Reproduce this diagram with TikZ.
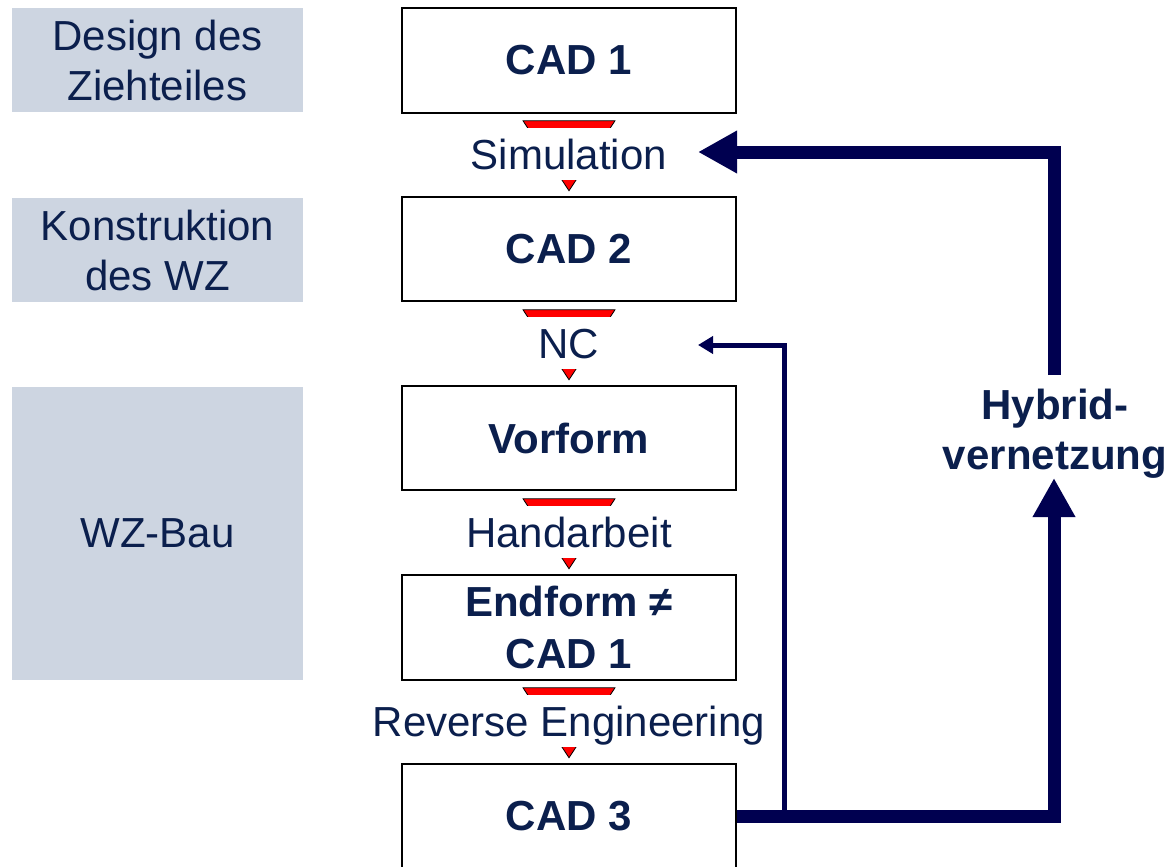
\documentclass[tikz,border=0pt]{standalone}
\usepackage{fontspec}
\setmainfont{Liberation Sans}
\usetikzlibrary{arrows.meta}
\definecolor{txt}{RGB}{11,31,77}
\definecolor{arr}{RGB}{0,0,80}
\definecolor{side}{RGB}{205,213,225}
\begin{document}
\begin{tikzpicture}[x=1pt,y=-1pt,
  every node/.style={font=\fontsize{42}{50}\selectfont, text=txt},
  sidebox/.style={fill=side, inner sep=0pt, align=center, minimum width=291pt},
  stepbox/.style={draw=black, line width=1.5pt, fill=white, minimum width=334pt, minimum height=105pt, inner sep=0pt, align=center, font=\fontsize{42}{52}\selectfont\bfseries},
  steplabel/.style={fill=white, inner xsep=3pt, inner ysep=0pt, minimum width=100pt, minimum height=52pt, text height=30pt, text depth=0pt},
  flowtri/.style={fill=red, draw=black, line width=0.8pt, line join=miter},
  bigarrow/.style={draw=arr, line width=13pt, -{Triangle[length=39pt,width=40pt]}},
  thinarrow/.style={draw=arr, line width=5pt, -{Triangle[length=15pt,width=17pt]}}]
\useasboundingbox (0,0) rectangle (1170,867);
\fill[white] (0,0) rectangle (1170,867);

% side boxes
\node[sidebox, minimum height=104pt] (s1) at (157.5,60) {Design des\\Ziehteiles};
\node[sidebox, minimum height=104pt] (s2) at (157.5,250) {Konstruktion\\des WZ};
\node[sidebox, minimum height=293pt] (s3) at (157.5,533.5) {WZ-Bau};

% main boxes
\node[stepbox] (cad1) at (569,60.5) {CAD 1};
\node[stepbox, minimum height=104pt] (cad2) at (569,249) {CAD 2};
\node[stepbox, minimum height=104pt] (vor) at (569,438) {Vorform};
\node[stepbox] (endf) at (569,627.5) {Endform ≠\\CAD 1};
\node[stepbox, minimum height=104pt] (cad3) at (569,816) {CAD 3};

% red flow triangles
\draw[flowtri] (cad1.south) ++(-46,7) -- ++(92,0) -- ++(-46,70) -- cycle;
\draw[flowtri] (cad2.south) ++(-46,8) -- ++(92,0) -- ++(-46,70) -- cycle;
\draw[flowtri] (vor.south) ++(-46,8) -- ++(92,0) -- ++(-46,70) -- cycle;
\draw[flowtri] (endf.south) ++(-46,7) -- ++(92,0) -- ++(-46,70) -- cycle;

% labels
\node[steplabel] (sim) at (569,154) {Simulation};
\node[steplabel] (nc) at (569,343) {NC};
\node[steplabel] (hand) at (569,532) {Handarbeit};
\node[steplabel] (rev) at (569,721) {Reverse Engineering};

% hybrid text
\node[font=\fontsize{42}{50}\selectfont\bfseries, align=center, inner sep=0pt] (hyb) at (1055,434) {Hybrid-\\vernetzung};

\coordinate (hybbot) at (1054,478);
\coordinate (hybtop) at (1054,375);
\coordinate (simin) at (698,152);
\coordinate (ncin) at (698,345);
\coordinate (branch) at (784,816);

\draw[thinarrow] (branch) |- (ncin);
\draw[bigarrow] (cad3.east) -| (hybbot);
\draw[bigarrow] (hybtop) |- (simin);
\end{tikzpicture}
\end{document}
